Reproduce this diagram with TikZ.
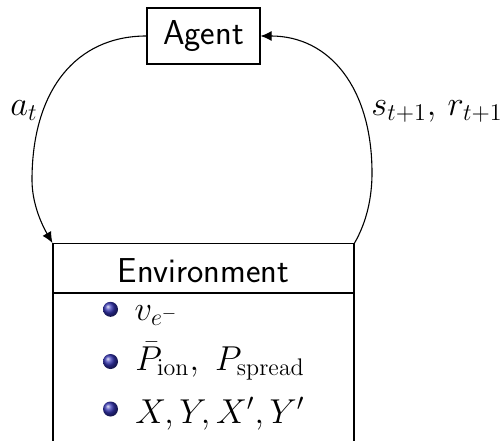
\documentclass[tikz,border=0pt]{standalone}
\usetikzlibrary{arrows.meta,shadings}
\definecolor{beamerblue}{RGB}{51,51,178}
\tikzset{
  box/.style={draw, line width=0.55pt, inner sep=0pt},
  conn/.style={line width=0.55pt, -{Latex[length=5.5pt,width=5pt]}},
  txt/.style={font=\sffamily\fontsize{17.3}{20}\selectfont},
  mth/.style={font=\fontsize{17.3}{20}\selectfont, inner sep=0pt, anchor=base west},
  itemball/.style={circle, shade, ball color=beamerblue, minimum size=7.5pt, inner sep=0pt}
}
\begin{document}
\begin{tikzpicture}[x=0.5pt,y=0.5pt]
\clip (0,0) rectangle (502,440);
% agent
\node[box, txt, minimum width=56.5pt, minimum height=28pt] (agent) at (203.5,404) {Agent};
% environment box (bottom runs past the picture edge)
\node[box, minimum width=150.5pt, minimum height=113.5pt, anchor=north] (env) at (203.5,197) {};
\path (env.north west) ++(0,-50) coordinate (divL);
\path (env.north east) ++(0,-50) coordinate (divR);
\draw[line width=0.55pt] (divL) -- (divR);
\node[txt, anchor=base, inner sep=0pt] (envtitle) at (203.5,158) {Environment};
% items
\node[itemball] (b1) at (110.5,130.7) {};
\node[mth] (i1) at (134.3,120) {$v_{e^-}$};
\node[itemball] (b2) at (110.5,78.5) {};
\node[mth] (i2) at (135,70) {$\bar{P}_{\mathrm{ion}},\ P_{\mathrm{spread}}$};
\node[itemball] (b3) at (110.5,31) {};
\node[mth] (i3) at (135,17) {$X, Y, X', Y'$};
% labels
\node[mth] (la) at (10,325) {$a_t$};
\node[mth] (ls) at (371,325) {$s_{t+1},\, r_{t+1}$};
% turning points of the two connectors
\coordinate (lmid) at (32,260);
\coordinate (rmid) at (372,267);
% connectors
\draw[conn] (agent.west) to[out=180,in=90,out distance=35.5pt,in distance=44.5pt] (lmid)
  to[out=-90,in=120,out distance=11.3pt,in distance=11.5pt] (env.north west);
\draw[conn] (env.north east) to[out=60,in=-90,out distance=12pt,in distance=12.4pt] (rmid)
  to[out=90,in=0,out distance=42.5pt,in distance=34.5pt] (agent.east);
\end{tikzpicture}
\end{document}
